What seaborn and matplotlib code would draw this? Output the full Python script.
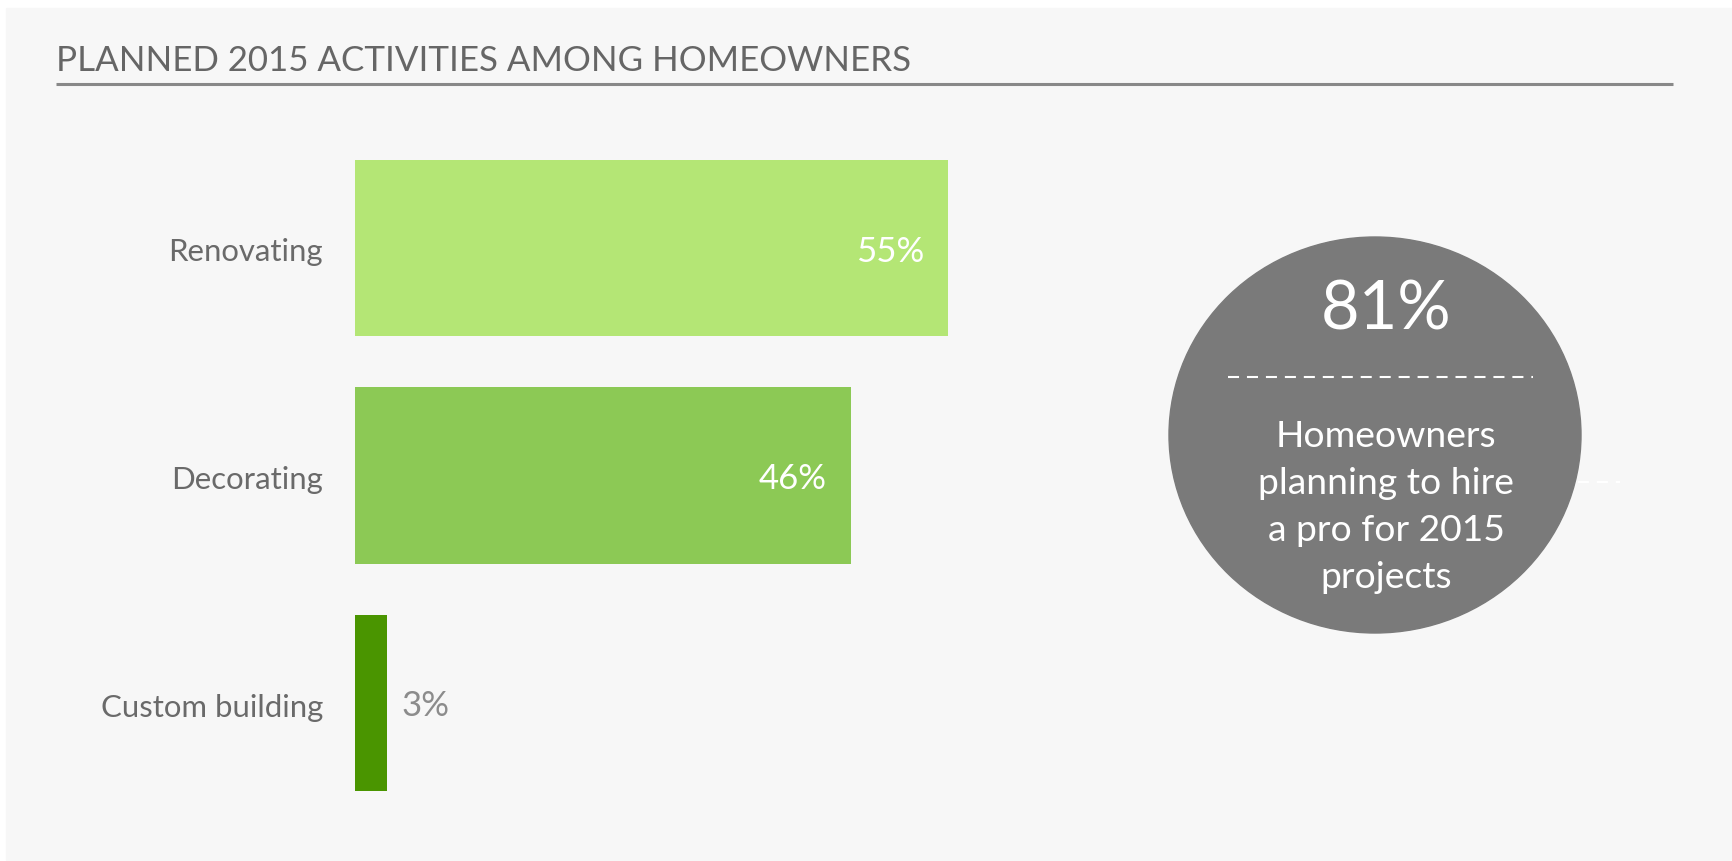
import matplotlib
matplotlib.use("Agg")
import matplotlib.pyplot as plt
from matplotlib.patches import Ellipse, Rectangle
import pandas as pd
import seaborn as sns

# data
categories = ["Renovating", "Decorating", "Custom building"]
shares = [55, 46, 3]
bar_colors = ["#b4e675", "#8cc955", "#4a9500"]
title = "PLANNED 2015 ACTIVITIES AMONG HOMEOWNERS"
callout_value = "81%"
callout_text = "Homeowners\nplanning to hire\na pro for 2015\nprojects"

W, H = 1732, 861
sns.set_theme(style="white")
plt.rcParams["font.family"] = ["Lato", "DejaVu Sans"]

fig = plt.figure(figsize=(W / 100, H / 100), dpi=100)
fig.patch.set_facecolor("white")

# background layer in pixel coords: panel, title, callout
bg = fig.add_axes([0, 0, 1, 1])
bg.set_xlim(0, W); bg.set_ylim(H, 0); bg.axis("off")
bg.add_patch(Rectangle((6, 8), W - 6, 852, color="#f7f7f7", zorder=0))
bg.text(56, 71, title, fontsize=25.1, color="#666666", va="baseline")
bg.plot([56, 1673], [84, 84], color="#888888", lw=2.2, solid_capstyle="butt")

bg.plot([1540, 1620], [482, 482], color="white", lw=1.5, ls=(0, (5.3, 3.8)), zorder=1)
bg.add_patch(Ellipse((1375, 435), 412, 396, color="#7a7a7a", zorder=2))
bg.text(1386, 330, callout_value, fontsize=48, color="white",
        ha="center", va="baseline", zorder=3)
bg.plot([1228, 1533], [377, 377], color="white", lw=1.5, ls=(0, (5.3, 3.8)), zorder=3)
bg.text(1386, 507, callout_text, fontsize=26.8, color="white",
        ha="center", va="center", linespacing=1.53, zorder=3)

# bars
ax = fig.add_axes([355 / W, 1 - 816.75 / H, 800 / W, 682.5 / H])
ax.patch.set_alpha(0)
df = pd.DataFrame({"activity": categories, "share": shares})
sns.barplot(data=df, x="share", y="activity", hue="activity", palette=bar_colors,
            orient="h", width=0.778, saturation=1, linewidth=0, legend=False, ax=ax)
ax.set_xlim(0, 800 / 10.78)
ax.set_ylim(2.5, -0.5)
ax.axis("off")

for i, (cat, val) in enumerate(zip(categories, shares)):
    ax.annotate(cat, (0, i), xytext=(-32, -13.5), textcoords="offset pixels",
                ha="right", va="baseline", fontsize=22.4, color="#6a6a6a")
    inside = val >= 10
    ax.annotate(f"{val}%", (val, i), xytext=(-24 if inside else 14, -13.5),
                textcoords="offset pixels", ha="right" if inside else "left",
                va="baseline", fontsize=25, color="white" if inside else "#8c8c8c")

fig.savefig("out.png", dpi=100)
